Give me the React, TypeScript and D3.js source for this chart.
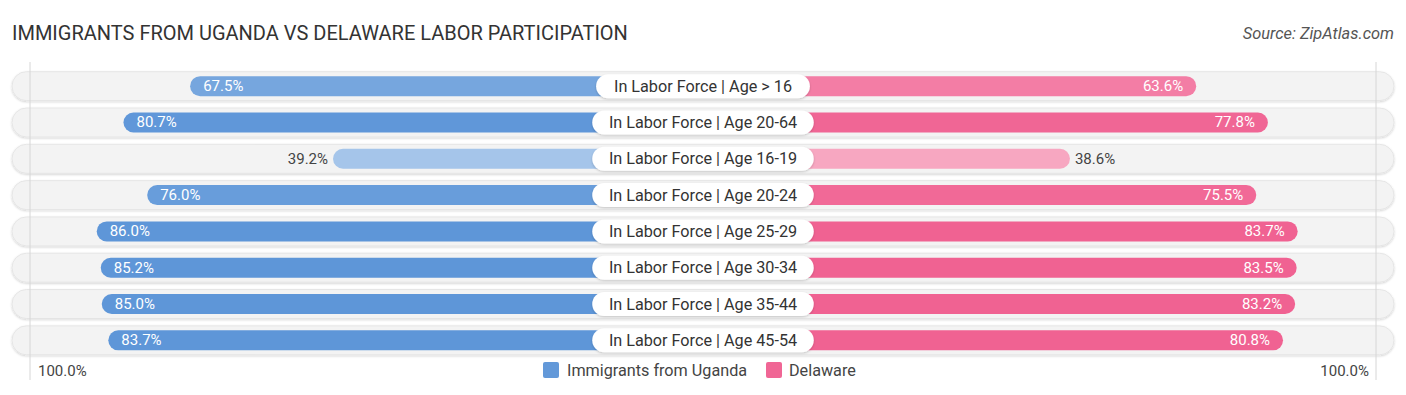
import React from "react";
import * as d3 from "d3";

const categories = [
  "In Labor Force | Age > 16",
  "In Labor Force | Age 20-64",
  "In Labor Force | Age 16-19",
  "In Labor Force | Age 20-24",
  "In Labor Force | Age 25-29",
  "In Labor Force | Age 30-34",
  "In Labor Force | Age 35-44",
  "In Labor Force | Age 45-54",
];
const uganda = [67.5, 80.7, 39.2, 76.0, 86.0, 85.2, 85.0, 83.7];
const delaware = [63.6, 77.8, 38.6, 75.5, 83.7, 83.5, 83.2, 80.8];
const seriesNames = ["Immigrants from Uganda", "Delaware"];

const W = 1406;
const H = 395;
const CX = 703;
const GAP = 172;
const FONT = "Roboto, 'Open Sans', sans-serif";

export default function App() {
  const rowY = d3
    .scaleBand<number>()
    .domain(d3.range(categories.length))
    .range([68, 358.5])
    .paddingInner(0.0);
  const len = d3.scaleLinear().domain([0, 100]).range([0, 505]);

  const blueColor = (v: number) =>
    d3.interpolateRgb("#b4cfee", "#5e96d8")(Math.max(0, Math.min(1, (v - 30) / 52)));
  const pinkColor = (v: number) =>
    d3.interpolateRgb("#f9b5cb", "#f06292")(Math.max(0, Math.min(1, (v - 30) / 50)));

  const rowH = 29;
  const barH = 20;

  return (
    <svg width={W} height={H} style={{ position: "absolute", left: 0, top: 0 }}>
      <defs>
        <filter id="sh" x="-5%" y="-30%" width="110%" height="160%">
          <feDropShadow dx="0" dy="1" stdDeviation="1" floodColor="#000" floodOpacity="0.18" />
        </filter>
        <filter id="sh2" x="-5%" y="-30%" width="110%" height="160%">
          <feDropShadow dx="0" dy="1" stdDeviation="1" floodColor="#000" floodOpacity="0.2" />
        </filter>
      </defs>
      <rect width={W} height={H} fill="#fff" />
      <text x={12} y={40} fontFamily={FONT} fontSize={20} fill="#333">
        IMMIGRANTS FROM UGANDA VS DELAWARE LABOR PARTICIPATION
      </text>
      <text x={1394} y={39} fontFamily={FONT} fontSize={16.4} fill="#555" fontStyle="italic" textAnchor="end">
        Source: ZipAtlas.com
      </text>

      {categories.map((c, i) => {
        const cy = (rowY(i) as number) + rowY.bandwidth() / 2;
        return (
          <rect
            key={"bg" + i}
            x={12}
            y={cy - rowH / 2}
            width={1382}
            height={rowH}
            rx={rowH / 2}
            fill="#f3f3f3"
            stroke="#e2e2e2"
            strokeWidth={0.8}
            filter="url(#sh)"
          />
        );
      })}
      <line x1={30} x2={30} y1={62} y2={380} stroke="#d6d6d6" strokeWidth={1} />
      <line x1={1376} x2={1376} y1={62} y2={380} stroke="#d6d6d6" strokeWidth={1} />

      {categories.map((c, i) => {
        const cy = (rowY(i) as number) + rowY.bandwidth() / 2;
        const u = uganda[i];
        const d = delaware[i];
        const lx = CX - GAP - len(u);
        const rx = CX + GAP + len(d);
        const uInside = u > 50;
        const dInside = d > 50;
        const tw = c.length * 7.75 + 20;
        return (
          <g key={"r" + i}>
            <rect x={lx} y={cy - barH / 2} width={CX - lx} height={barH} rx={barH / 2} fill={blueColor(u)} />
            <rect x={CX} y={cy - barH / 2} width={rx - CX} height={barH} rx={barH / 2} fill={pinkColor(d)} />
            <text
              x={uInside ? lx + 13 : lx - 5}
              y={cy + 5}
              fontFamily={FONT}
              fontSize={15}
              fill={uInside ? "#fff" : "#444"}
              textAnchor={uInside ? "start" : "end"}
            >
              {u.toFixed(1)}%
            </text>
            <text
              x={dInside ? rx - 13 : rx + 5}
              y={cy + 5}
              fontFamily={FONT}
              fontSize={15}
              fill={dInside ? "#fff" : "#444"}
              textAnchor={dInside ? "end" : "start"}
            >
              {d.toFixed(1)}%
            </text>
            <rect
              x={CX - tw / 2}
              y={cy - 12}
              width={tw}
              height={24}
              rx={12}
              fill="#fff"
              filter="url(#sh2)"
            />
            <text x={CX} y={cy + 5.5} fontFamily={FONT} fontSize={16.2} fill="#333" textAnchor="middle">
              {c}
            </text>
          </g>
        );
      })}

      <text x={38} y={376} fontFamily={FONT} fontSize={15} fill="#444">
        100.0%
      </text>
      <text x={1369} y={376} fontFamily={FONT} fontSize={15} fill="#444" textAnchor="end">
        100.0%
      </text>

      <rect x={543} y={362} width={16} height={16} rx={2} fill="#6399d9" />
      <text x={567} y={376} fontFamily={FONT} fontSize={16.2} fill="#444">
        {seriesNames[0]}
      </text>
      <rect x={766} y={362} width={16} height={16} rx={2} fill="#f06695" />
      <text x={789} y={376} fontFamily={FONT} fontSize={16.2} fill="#444">
        {seriesNames[1]}
      </text>
    </svg>
  );
}
